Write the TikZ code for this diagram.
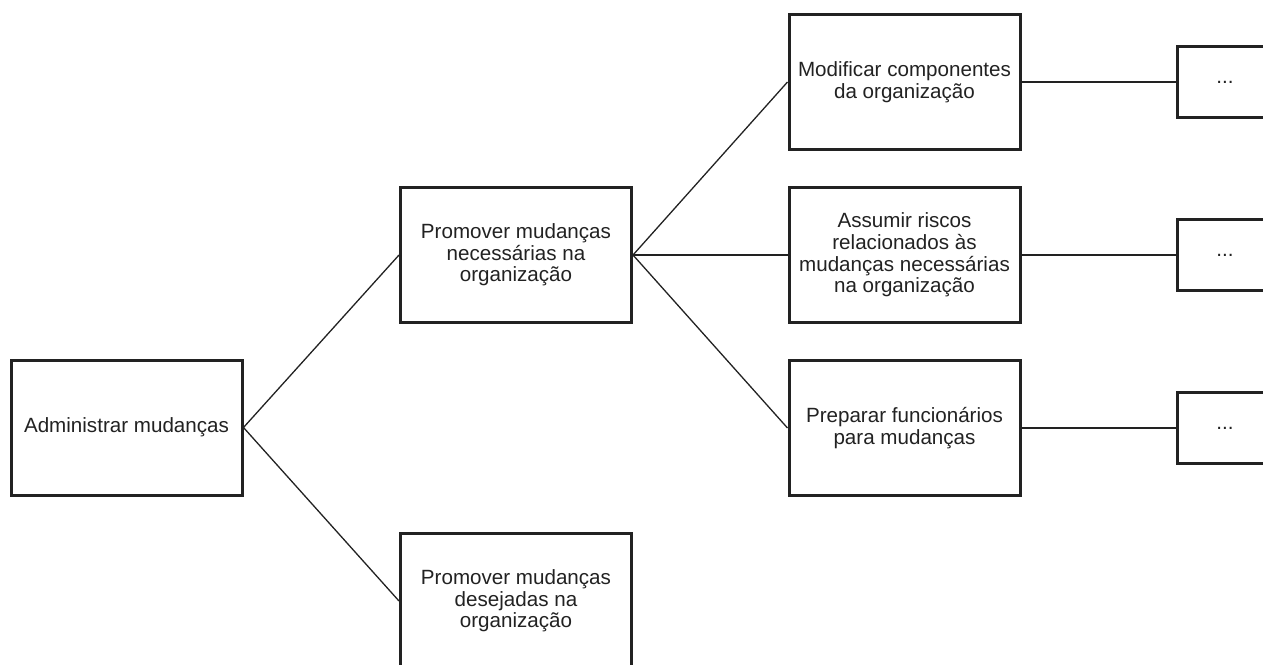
\documentclass[tikz,border=0pt]{standalone}
\usepackage{fontspec}
\setmainfont{Liberation Sans}
\definecolor{ink}{HTML}{222222}
\begin{document}
\begin{tikzpicture}[x=1pt,y=1pt,
  box/.style={draw=ink,line width=3pt,fill=white,text=ink,align=center,
    minimum width=231pt,minimum height=135pt,inner sep=0pt,
    font=\fontsize{20.6}{21.6}\selectfont},
  leaf/.style={box,minimum width=96pt,minimum height=71pt},
  link/.style={draw=ink,line width=1.3pt}]
\useasboundingbox (0,0) rectangle (1263,-664);

% tree nodes, centres in pixel positions (y downward)
\node[box] (root) at (126.5,-427.5) {Administrar mudanças};
\node[box] (nec)  at (516,-255) {Promover mudanças\\necessárias na\\organização};
\node[box] (des)  at (516,-601) {Promover mudanças\\desejadas na\\organização};
\node[box] (mod)  at (904.5,-82) {Modificar componentes\\da organização};
\node[box] (ris)  at (904.5,-255) {Assumir riscos\\relacionados às\\mudanças necessárias\\na organização};
\node[box] (fun)  at (904.5,-428) {Preparar funcionários\\para mudanças};
\node[leaf] (m1) at (1225,-82) {...};
\node[leaf] (m2) at (1225,-255) {...};
\node[leaf] (m3) at (1225,-428) {...};

% connectors
\draw[link] (root.east) -- (nec.west);
\draw[link] (root.east) -- (des.west);
\draw[link] (nec.east) -- (mod.west);
\draw[link] (nec.east) -- (ris.west);
\draw[link] (nec.east) -- (fun.west);
\draw[link] (mod.east) -- (m1.west);
\draw[link] (ris.east) -- (m2.west);
\draw[link] (fun.east) -- (m3.west);
\end{tikzpicture}
\end{document}
